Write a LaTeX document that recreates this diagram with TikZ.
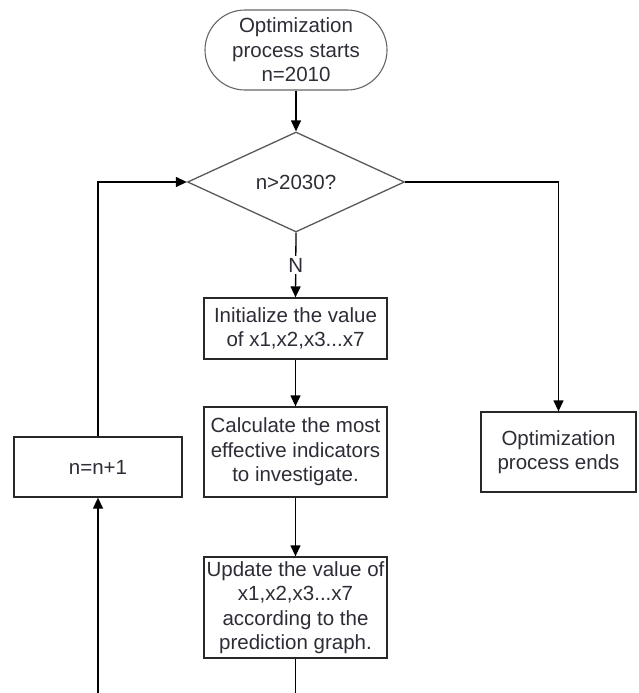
\documentclass[tikz,border=0pt]{standalone}
\usepackage{fontspec}
\setmainfont{Liberation Sans}
\usetikzlibrary{shapes.geometric,shapes.misc,arrows.meta}
\definecolor{txt}{RGB}{45,45,55}
\definecolor{edge}{RGB}{40,40,40}
\begin{document}
\begin{tikzpicture}[x=1pt,y=-1pt,
  every node/.style={font=\fontsize{20.5}{24.5}\selectfont, text=txt, align=center, inner sep=0pt},
  boxnode/.style={draw=edge, line width=1.3pt, rectangle, fill=white},
  termnode/.style={draw=gray!80!black, line width=1.1pt, rounded rectangle, fill=white},
  decnode/.style={draw=gray!70!black, line width=1.3pt, diamond, aspect=2.17, fill=white},
  conn/.style={draw=black, line width=1.3pt},
  arr/.style={conn, -{Triangle[length=11pt,width=10pt]}}
]
\useasboundingbox (0,0) rectangle (638,693);

\node[termnode, minimum width=182pt, minimum height=80pt] (start) at (296,50)
  {Optimization\\process starts\\n=2010};
\node[decnode, minimum width=217pt, minimum height=100pt] (dec) at (296,182) {n>2030?};
\node[boxnode, minimum width=183pt, minimum height=61pt] (init) at (295.5,328.5)
  {Initialize the value\\of x1,x2,x3...x7};
\node[boxnode, minimum width=183pt, minimum height=90pt] (calc) at (295.5,452)
  {Calculate the most\\effective indicators\\to investigate.};
\node[boxnode, minimum width=183pt, minimum height=101pt] (upd) at (295.5,607.5)
  {Update the value of\\x1,x2,x3...x7\\according to the\\prediction graph.};
\node[boxnode, minimum width=168pt, minimum height=60pt] (inc) at (98,467) {n=n+1};
\node[boxnode, minimum width=155pt, minimum height=80pt] (end) at (558.5,452)
  {Optimization\\process ends};

\coordinate (b1) at (295.5,693);
\coordinate (b2) at (98,693);

\draw[arr] (start.south) -- (dec.north);
\draw[arr] (dec.south) -- node[fill=white, inner sep=2pt, pos=0.5] (nlab) {N} (init.north);
\draw[arr] (init.south) -- (calc.north);
\draw[arr] (calc.south) -- (upd.north);
\draw[arr] (dec.east) -| (end.north);
\draw[arr] (inc.north) |- (dec.west);
\draw[conn] (upd.south) -- (b1);
\draw[arr] (b2) -- (inc.south);
\end{tikzpicture}
\end{document}
